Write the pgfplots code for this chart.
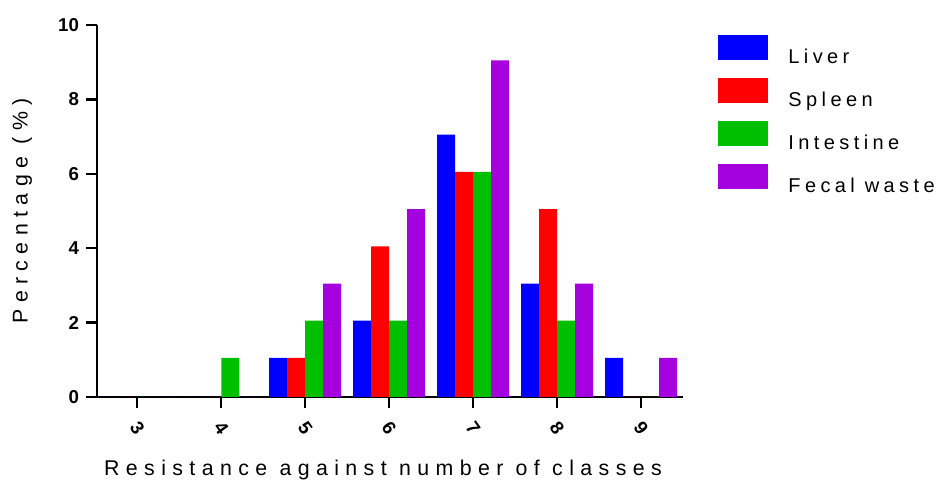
\documentclass[border=0pt]{standalone}
\usepackage{fontspec}
\setmainfont{Liberation Sans}
\newfontfamily\lsfont[LetterSpace=30]{Liberation Sans}
\newfontfamily\legfont[LetterSpace=22]{Liberation Sans}
\usepackage{pgfplots}
\pgfplotsset{compat=1.18}
\definecolor{cLiver}{RGB}{0,0,255}
\definecolor{cSpleen}{RGB}{255,0,0}
\definecolor{cInt}{RGB}{0,190,0}
\definecolor{cFecal}{RGB}{165,0,222}
\begin{document}
\begin{tikzpicture}
\begin{axis}[
  name=ax,
  scale only axis, width=439.5pt, height=279pt,
  ybar=0pt, bar width=13.5pt,
  xmin=2.52, xmax=9.5, ymin=0, ymax=10,
  xtick={3,4,5,6,7,8,9}, ytick={0,2,4,6,8,10},
  axis lines=left, axis line style={-, line width=1.8pt},
  every tick/.style={line width=1.8pt, black},
  major tick length=8pt, tick align=outside,
  ticklabel style={font=\bfseries\fontsize{14}{14}\selectfont},
  /pgf/number format/assume math mode=true,
  xticklabel style={rotate=-55, anchor=center},
  xticklabel shift=15pt,
  yticklabel style={xshift=-2pt},
  xlabel={\lsfont Resistance against number of classes},
  ylabel={\lsfont Percentage (\%)},
  label style={font=\fontsize{16}{16}\selectfont},
  xlabel style={at={(axis description cs:0.488,-0.197)}, anchor=center},
  ylabel style={at={(axis description cs:-0.128,0.5)}, anchor=center},
  legend style={at={(1.06,0.973)}, anchor=north west, draw=none, fill=none,
    font=\legfont\fontsize{15}{15}\selectfont, row sep=3pt, inner sep=0pt,
    /tikz/every odd column/.append style={column sep=13pt}},
  legend cell align=left,
  legend image code/.code={\fill[#1] (0pt,0pt) rectangle (37.5pt,18.75pt);},
  every axis plot/.append style={draw=none},
]
\addplot[fill=cLiver] coordinates {(3,0) (4,0) (5,1.05) (6,2.05) (7,7.05) (8,3.05) (9,1.05)};
\addplot[fill=cSpleen] coordinates {(3,0) (4,0) (5,1.05) (6,4.05) (7,6.05) (8,5.05) (9,0)};
\addplot[fill=cInt] coordinates {(3,0) (4,1.05) (5,2.05) (6,2.05) (7,6.05) (8,2.05) (9,0)};
\addplot[fill=cFecal] coordinates {(3,0) (4,0) (5,3.05) (6,5.05) (7,9.05) (8,3.05) (9,1.05)};
\legend{\raisebox{4.5pt}{Liver}, \raisebox{4.5pt}{Spleen}, \raisebox{4.5pt}{Intestine}, \raisebox{4.5pt}{Fecal waste}}
\end{axis}
\pgfresetboundingbox
\path[use as bounding box] (ax.south west) ++(-72.75pt,-65.25pt) rectangle ++(711.75pt,363pt);
\end{tikzpicture}
\end{document}
